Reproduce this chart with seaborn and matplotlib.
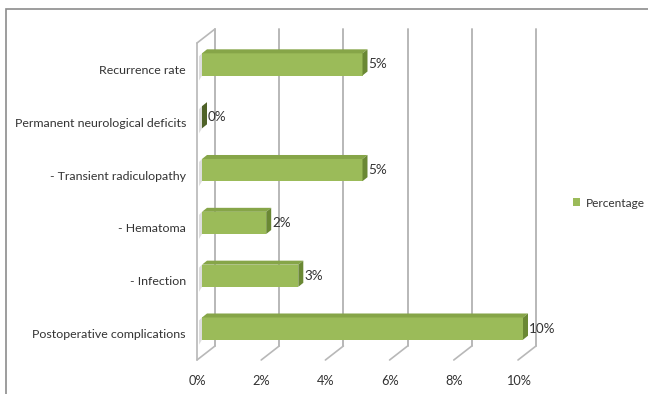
import matplotlib
matplotlib.use("Agg")
import matplotlib.pyplot as plt
import seaborn as sns
import pandas as pd
from matplotlib.patches import Polygon, Patch, Rectangle
from matplotlib.lines import Line2D

categories = ["Recurrence rate", "Permanent neurological deficits", "- Transient radiculopathy",
              "- Hematoma", "- Infection", "Postoperative complications"]
values = [5, 0, 5, 2, 3, 10]
xticks = [0, 2, 4, 6, 8, 10]
xtick_labels = ["0%", "2%", "4%", "6%", "8%", "10%"]
series_name = "Percentage"

df = pd.DataFrame({"category": categories, "value": values})

sns.set_style("white")
plt.rcParams["font.family"] = ["Lato", "DejaVu Sans"]
TXT = "#333333"
GRID = "#B8B8B8"
FRONT = "#9BBB59"
TOP = "#86A548"
SIDE = "#6A8834"
FS = 8.9

W, H = 648, 394
fig = plt.figure(figsize=(W / 100, H / 100), dpi=100)
L, R, T, B = 197, 518, 43, 360
ax = fig.add_axes([L / W, 1 - B / H, (R - L) / W, (B - T) / H])

sns.barplot(data=df, x="value", y="category", ax=ax, color=FRONT, width=0.42,
            orient="h", saturation=1, zorder=3)
ax.set_xlim(0, 10)
ax.set_ylim(5.5, -0.5)
for s in ax.spines.values():
    s.set_visible(False)
ax.set_xlabel("")
ax.set_ylabel("")

px2x = 10 / (R - L)
px2y = 6 / (B - T)

def off(dx, dy):
    return dx * px2x, -dy * px2y

# back plane offset
bdx, bdy = off(18, 14)
ylo, yhi = -0.5, 5.5
for t in xticks:
    ax.add_line(Line2D([t + bdx, t + bdx], [ylo + bdy, yhi + bdy], color=GRID, lw=1.4, clip_on=False, zorder=1))
    ax.add_line(Line2D([t, t + bdx], [yhi, yhi + bdy], color=GRID, lw=1.2, clip_on=False, zorder=1))
# left wall
ax.add_line(Line2D([0, 0], [ylo, yhi], color=GRID, lw=1.2, clip_on=False, zorder=1))
ax.add_line(Line2D([0, bdx], [ylo, ylo + bdy], color=GRID, lw=1.2, clip_on=False, zorder=1))

# ticks
ax.set_xticks(xticks)
ax.set_xticklabels(xtick_labels, color=TXT, fontsize=FS + 0.3)
ax.tick_params(axis="x", length=3, color=GRID, pad=8, width=1)
ax.set_yticks(range(len(categories)))
ax.set_yticklabels(categories, color=TXT, fontsize=FS)
ax.tick_params(axis="y", which="major", length=0, pad=8)
ax.set_yticks([i + 0.5 for i in range(-1, len(categories))], minor=True)
ax.tick_params(axis="y", which="minor", length=4, color=GRID, width=1)

# 3D bars
fdx, fdy = off(5, 5)
ddx, ddy = off(5, 4)
for p, v in zip(ax.patches, values):
    p.set_x(p.get_x() + fdx)
    p.set_y(p.get_y() + fdy)
    p.set_edgecolor("none")
    p.set_clip_on(False)
    x0, y0, w, h = p.get_x(), p.get_y(), p.get_width(), p.get_height()
    sdx, sdy = off(3, 0)
    shadow = Polygon([(x0 - sdx, y0 + off(0, -3)[1]), (x0, y0), (x0, y0 + h), (x0 - sdx, y0 + h + off(0, -5)[1])],
                     closed=True, facecolor="#D0D0D0", edgecolor="none", alpha=0.7, zorder=2, clip_on=False)
    ax.add_patch(shadow)
    top = Polygon([(x0, y0), (x0 + w, y0), (x0 + w + ddx, y0 + ddy), (x0 + ddx, y0 + ddy)],
                  closed=True, facecolor=TOP, edgecolor="none", zorder=3, clip_on=False)
    side = Polygon([(x0 + w, y0), (x0 + w, y0 + h), (x0 + w + ddx, y0 + h + ddy), (x0 + w + ddx, y0 + ddy)],
                   closed=True, facecolor=SIDE if w > 0 else "#4F6228", edgecolor="none", zorder=3, clip_on=False)
    ax.add_patch(top)
    ax.add_patch(side)
    ax.text(x0 + w + ddx + px2x * 1, y0 + h / 2, f"{v:g}%", va="center", ha="left",
            color=TXT, fontsize=FS + 0.8, zorder=4, clip_on=False)

fig.legend(handles=[Patch(facecolor=FRONT, edgecolor="none", label=series_name)],
           loc="center left", bbox_to_anchor=(562 / W, 1 - 203 / H), frameon=False,
           handlelength=0.6, handleheight=0.6, handletextpad=0.5, fontsize=FS - 0.3, labelcolor=TXT)

fig.patches.append(Rectangle((5.5 / W, -0.05), 1.0, 1 - 8.5 / H + 0.05, transform=fig.transFigure,
                             fill=False, edgecolor="#8C8C8C", lw=1.2))

fig.savefig("out.png", dpi=100)
